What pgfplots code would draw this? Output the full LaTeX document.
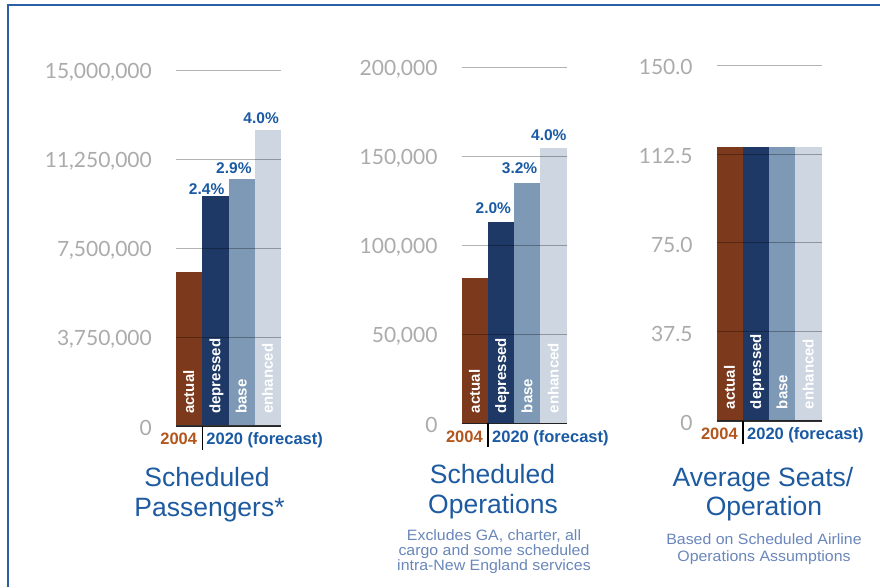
\documentclass[border=0pt]{standalone}
\usepackage{fontspec}
\setmainfont{Liberation Sans}
\newfontfamily\tickfont{Lato}
\newfontfamily\subfont{Liberation Sans}[FakeStretch=1.06]
\usepackage{pgfplots}
\pgfplotsset{compat=1.18}
\usetikzlibrary{calc}

\definecolor{cActual}{HTML}{7D391C}
\definecolor{cDep}{HTML}{1E3966}
\definecolor{cBase}{HTML}{7E99B5}
\definecolor{cEnh}{HTML}{CDD6E1}
\definecolor{cPct}{HTML}{1A5AA3}
\definecolor{cYear}{HTML}{B3561E}
\definecolor{cTitle}{HTML}{1D5AA0}
\definecolor{cSub}{HTML}{6A87BB}
\definecolor{cTick}{HTML}{ABABAB}
\definecolor{cBorder}{HTML}{2B5FA6}

\pgfplotsset{
  panel/.style={
    scale only axis, width=105pt, height=355.5pt,
    xmin=0, xmax=4, ymin=0, clip=false, axis on top,
    anchor=south west, scaled y ticks=false,
    axis line style={draw=none}, tick style={draw=none},
    major tick length=0pt, xtick=\empty,
    ymajorgrids, grid style={black, opacity=0.3, line width=0.9pt},
    yticklabel style={font=\tickfont\fontsize{21}{24}\selectfont, text=cTick,
      inner sep=0pt, anchor=east, xshift=-24pt, yshift=-2pt},
  },
  bar/.style={ybar, bar width=1, bar shift=0pt, draw=none, fill=#1},
}
\tikzset{
  barlab/.style={rotate=90, anchor=base west, inner sep=0pt, text=white,
    font=\bfseries\fontsize{15}{18}\selectfont},
  pct/.style={anchor=base east, inner sep=0pt, text=cPct,
    font=\bfseries\fontsize{15.5}{18}\selectfont},
  yr/.style={inner sep=0pt, font=\bfseries\fontsize{16.5}{18}\selectfont},
  ttl/.style={anchor=base, inner sep=0pt, text=cTitle, font=\fontsize{26.5}{30}\selectfont},
  sub/.style={anchor=base, inner sep=0pt, text=cSub, font=\subfont\fontsize{15}{17}\selectfont},
}

\begin{document}
\begin{tikzpicture}
\useasboundingbox (0pt,0pt) rectangle (880pt,587pt);
\fill[white] (0pt,0pt) rectangle (880pt,587pt);
\draw[cBorder, line width=2.5pt] (8pt,0pt) -- (8pt,582pt) -- (880pt,582pt);

% ---------- Panel 1: Scheduled Passengers ----------
\begin{axis}[panel, at={(176pt,161pt)}, ymax=15000000,
  ytick={0,3750000,7500000,11250000,15000000},
  yticklabels={0,{3,750,000},{7,500,000},{11,250,000},{15,000,000}}]
\addplot[bar=cActual] coordinates {(0.5,6480000)};
\addplot[bar=cDep] coordinates {(1.5,9690000)};
\addplot[bar=cBase] coordinates {(2.5,10440000)};
\addplot[bar=cEnh] coordinates {(3.5,12480000)};
\draw[black!80, line width=1.6pt] (axis cs:0,0) -- (axis cs:4,0);
\node[barlab] at ($(axis cs:0.5,0)+(5pt,12pt)$) {actual};
\node[barlab] at ($(axis cs:1.5,0)+(5pt,12pt)$) {depressed};
\node[barlab] at ($(axis cs:2.5,0)+(5pt,12pt)$) {base};
\node[barlab] at ($(axis cs:3.5,0)+(5pt,12pt)$) {enhanced};
\node[pct] at ($(axis cs:2,9690000)+(-4pt,2pt)$) {2.4\%};
\node[pct] at ($(axis cs:3,10440000)+(-3pt,5pt)$) {2.9\%};
\node[pct] at ($(axis cs:4,12480000)+(-2pt,7pt)$) {4.0\%};
\draw[black, line width=1.3pt] (axis cs:1,0) -- ++(0pt,-24pt);
\node[yr, anchor=base east, text=cYear] at ($(axis cs:1,0)+(-5pt,-18.5pt)$) {2004};
\node[yr, anchor=base west, text=cPct] at ($(axis cs:1,0)+(4pt,-18.5pt)$) {2020 (forecast)};
\end{axis}

% ---------- Panel 2: Scheduled Operations ----------
\begin{axis}[panel, at={(461.7pt,163.7pt)}, ymax=200000,
  ytick={0,50000,100000,150000,200000},
  yticklabels={0,{50,000},{100,000},{150,000},{200,000}}]
\addplot[bar=cActual] coordinates {(0.5,81600)};
\addplot[bar=cDep] coordinates {(1.5,113000)};
\addplot[bar=cBase] coordinates {(2.5,135300)};
\addplot[bar=cEnh] coordinates {(3.5,155000)};
\draw[black!80, line width=1.6pt] (axis cs:0,0) -- (axis cs:4,0);
\node[barlab] at ($(axis cs:0.5,0)+(5pt,10pt)$) {actual};
\node[barlab] at ($(axis cs:1.5,0)+(5pt,10pt)$) {depressed};
\node[barlab] at ($(axis cs:2.5,0)+(5pt,10pt)$) {base};
\node[barlab] at ($(axis cs:3.5,0)+(5pt,10pt)$) {enhanced};
\node[pct] at ($(axis cs:2,113000)+(-3pt,9pt)$) {2.0\%};
\node[pct] at ($(axis cs:3,135300)+(-3pt,9pt)$) {3.2\%};
\node[pct] at ($(axis cs:4,155000)+(0pt,7pt)$) {4.0\%};
\draw[black, line width=1.3pt] (axis cs:1,0) -- ++(0pt,-24pt);
\node[yr, anchor=base east, text=cYear] at ($(axis cs:1,0)+(-5pt,-19.5pt)$) {2004};
\node[yr, anchor=base west, text=cPct] at ($(axis cs:1,0)+(4pt,-19.5pt)$) {2020 (forecast)};
\end{axis}

% ---------- Panel 3: Average Seats / Operation ----------
\begin{axis}[panel, at={(716.7pt,166.3pt)}, ymax=150,
  ytick={0,37.5,75,112.5,150},
  yticklabels={0,37.5,75.0,112.5,150.0}]
\addplot[bar=cActual] coordinates {(0.5,115.6)};
\addplot[bar=cDep] coordinates {(1.5,115.6)};
\addplot[bar=cBase] coordinates {(2.5,115.6)};
\addplot[bar=cEnh] coordinates {(3.5,115.6)};
\draw[black!80, line width=1.6pt] (axis cs:0,0) -- (axis cs:4,0);
\node[barlab] at ($(axis cs:0.5,0)+(5pt,11.5pt)$) {actual};
\node[barlab] at ($(axis cs:1.5,0)+(5pt,11.5pt)$) {depressed};
\node[barlab] at ($(axis cs:2.5,0)+(5pt,11.5pt)$) {base};
\node[barlab] at ($(axis cs:3.5,0)+(5pt,11.5pt)$) {enhanced};
\draw[black, line width=1.3pt] (axis cs:1,0) -- ++(0pt,-23pt);
\node[yr, anchor=base east, text=cYear] at ($(axis cs:1,0)+(-5pt,-19pt)$) {2004};
\node[yr, anchor=base west, text=cPct] at ($(axis cs:1,0)+(4pt,-19pt)$) {2020 (forecast)};
\end{axis}

% ---------- Titles ----------
\node[ttl] at (207pt,100.3pt) {Scheduled};
\node[ttl] at (209.5pt,70.3pt) {Passengers*};
\node[ttl] at (492.5pt,103.7pt) {Scheduled};
\node[ttl] at (493pt,73.7pt) {Operations};
\node[sub] at (494pt,46.3pt) {Excludes GA, charter, all};
\node[sub] at (494pt,32pt) {cargo and some scheduled};
\node[sub] at (494pt,17pt) {intra-New England services};
\node[ttl] at (763pt,100.3pt) {Average Seats/};
\node[ttl] at (764pt,71.3pt) {Operation};
\node[sub] at (764pt,43pt) {Based on Scheduled Airline};
\node[sub] at (764pt,25.3pt) {Operations Assumptions};
\end{tikzpicture}
\end{document}
